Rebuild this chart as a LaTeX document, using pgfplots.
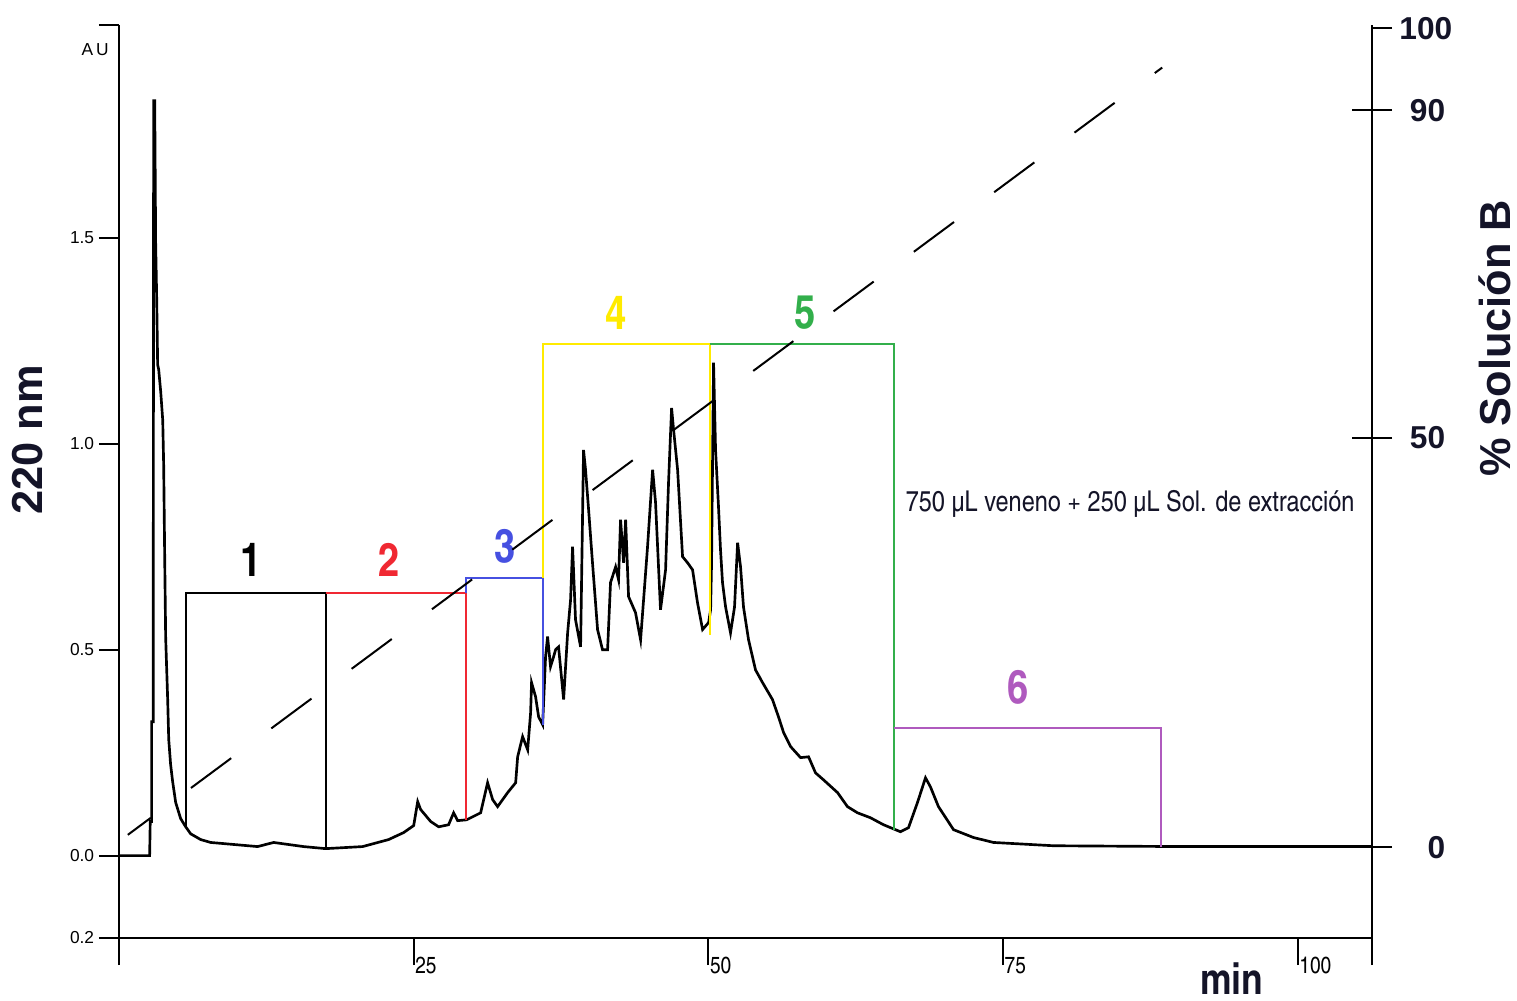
\documentclass[border=0pt]{standalone}
\usepackage{fontspec}
\setmainfont{Liberation Sans}
\newfontfamily\cond[BoldFont=texgyreheroscn-bold.otf]{texgyreheroscn-regular.otf}
\usepackage{pgfplots}
\pgfplotsset{compat=1.18}
\definecolor{fred}{RGB}{240,40,50}
\definecolor{fblue}{RGB}{70,80,225}
\definecolor{fyellow}{RGB}{255,235,0}
\definecolor{fgreen}{RGB}{50,175,75}
\definecolor{fpurple}{RGB}{175,90,190}
\definecolor{ink}{RGB}{20,20,40}
\begin{document}
\begin{tikzpicture}
\useasboundingbox (-35.7pt,-18.6pt) rectangle (419.4pt,281.4pt);
\begin{axis}[
  at={(0,0)}, anchor=south west,
  scale only axis, width=375.9pt, height=273.9pt,
  xmin=0, xmax=106.3, ymin=-0.2, ymax=2.017,
  clip=false,
  axis x line*=bottom, axis y line*=left,
  axis line style={-, line width=0.6pt},
  tick align=outside,
  xtick={0,25,50,75,100,106.3},
  xticklabels={,25,50,75,100,},
  ytick={-0.2,0,0.5,1,1.5,2.017},
  yticklabels={0.2,0.0,0.5,1.0,1.5,},
  xtick style={line width=0.6pt, black, /pgfplots/major tick length=8.1pt},
  ytick style={line width=0.6pt, black, /pgfplots/major tick length=6pt},
  xticklabel style={font=\cond\fontsize{7}{8}\selectfont, anchor=west, inner sep=0.8pt, yshift=-4pt, xshift=-0.5pt},
  yticklabel style={font=\fontsize{5.2}{6}\selectfont, anchor=east, inner sep=0pt, xshift=-3pt},
]
\addplot[black, line width=0.8pt] coordinates {
(0,0) (2.60,0) (2.65,0.083) (2.77,0.083) (2.77,0.325) (2.90,0.325) (2.94,1.833) (3.03,1.833)
(3.11,1.488) (3.20,1.350) (3.28,1.192) (3.37,1.180) (3.54,1.126) (3.71,1.058) (3.79,0.949)
(3.88,0.718) (3.96,0.529) (4.13,0.379) (4.22,0.282) (4.38,0.221) (4.55,0.180) (4.81,0.129)
(5.23,0.090) (5.66,0.070) (6.08,0.053) (6.93,0.039) (7.78,0.032) (11.76,0.022) (13.12,0.032)
(15.66,0.022) (17.53,0.017) (20.67,0.022) (22.87,0.039) (24.15,0.056) (25.00,0.073)
(25.34,0.131) (25.59,0.112) (26.44,0.083) (27.12,0.070) (27.96,0.075) (28.39,0.104)
(28.73,0.085) (29.49,0.087) (30.68,0.104) (31.27,0.177) (31.70,0.136) (32.12,0.119)
(32.97,0.153) (33.65,0.177) (33.82,0.240) (34.24,0.289) (34.67,0.257) (34.92,0.347)
(35.00,0.420) (35.34,0.386) (35.60,0.337) (35.94,0.318) (36.19,0.483) (36.36,0.532)
(36.61,0.459) (36.87,0.483) (37.04,0.500) (37.29,0.507) (37.72,0.379) (38.06,0.541)
(38.31,0.621) (38.48,0.750) (38.73,0.573) (39.16,0.507) (39.41,0.985) (39.58,0.937)
(39.84,0.840) (40.17,0.711) (40.60,0.549) (41.02,0.500) (41.45,0.500) (41.70,0.663)
(42.13,0.701) (42.38,0.670) (42.55,0.816) (42.81,0.711) (42.98,0.816) (43.23,0.629)
(43.82,0.590) (44.25,0.524) (44.84,0.750) (45.27,0.937) (45.52,0.857) (45.94,0.597)
(46.37,0.694) (46.62,0.905) (46.88,1.087) (47.05,1.034) (47.39,0.937) (47.81,0.726)
(48.24,0.711) (48.66,0.694) (49.08,0.614) (49.51,0.549) (50.02,0.566) (50.19,0.597)
(50.27,0.711) (50.44,1.197) (50.61,0.985) (50.86,0.847) (51.03,0.743) (51.20,0.663)
(51.46,0.604) (51.88,0.541) (52.22,0.604) (52.48,0.760) (52.73,0.701) (52.98,0.604)
(53.41,0.524) (54.00,0.451) (54.60,0.420) (55.44,0.379) (55.95,0.337) (56.38,0.299)
(56.97,0.265) (57.82,0.238) (58.50,0.240) (59.09,0.201) (59.77,0.184) (60.96,0.153)
(61.80,0.119) (62.65,0.104) (63.75,0.092) (64.86,0.075) (65.62,0.066) (66.30,0.058)
(66.98,0.068) (67.74,0.129) (68.42,0.189) (68.84,0.167) (69.52,0.119) (70.80,0.063)
(72.49,0.044) (74.19,0.032) (79.28,0.024) (90.05,0.022) (106.3,0.022)
};
% fraction boxes
\addplot[black, line width=0.6pt] coordinates {(5.66,0.070) (5.66,0.638) (17.53,0.638) (17.53,0.017)};
\addplot[fred, line width=0.6pt] coordinates {(17.53,0.638) (29.41,0.638) (29.41,0.087)};
\addplot[fblue, line width=0.6pt] coordinates {(29.41,0.638) (29.41,0.675) (35.94,0.675) (35.94,0.318)};
\addplot[fyellow, line width=0.6pt] coordinates {(35.94,0.675) (35.94,1.243) (50.10,1.243) (50.10,0.536)};
\addplot[fgreen, line width=0.6pt] coordinates {(50.10,1.243) (65.71,1.243) (65.71,0.062)};
\addplot[fpurple, line width=0.6pt] coordinates {(65.71,0.311) (88.36,0.311) (88.36,0.022)};
\begin{scope}[font=\cond\bfseries\fontsize{14}{16}\selectfont]
\node[black] at (axis cs:11.19,0.718) {1};
\node[fred] at (axis cs:22.9,0.718) {2};
\node[fblue] at (axis cs:32.8,0.750) {3};
\node[fyellow] at (axis cs:42.2,1.318) {4};
\node[fgreen] at (axis cs:58.2,1.318) {5};
\node[fpurple] at (axis cs:76.3,0.408) {6};
\end{scope}
\node[font=\cond\fontsize{8.6}{10}\selectfont, ink] at (rel axis cs:0.807,0.475) {750 µL veneno + 250 µL Sol. de extracción};
\node[font=\fontsize{5.2}{6}\selectfont] at (rel axis cs:-0.019,0.9726) {A\,U};
\node[font=\bfseries\fontsize{13}{15}\selectfont, ink, rotate=90] at (rel axis cs:-0.0726,0.5455) {220 nm};
\node[font=\bfseries\fontsize{13}{15}\selectfont, ink, rotate=90] at (rel axis cs:1.098,0.657) {\% Solución B};
\node[font=\cond\bfseries\fontsize{13}{15}\selectfont, ink, inner sep=0pt] at (rel axis cs:0.888,-0.045) {min};
\end{axis}
\begin{axis}[
  at={(0,0)}, anchor=south west,
  scale only axis, width=375.9pt, height=273.9pt,
  xmin=0, xmax=106.3, ymin=-11.1, ymax=100.4,
  clip=false,
  axis x line=none, axis y line*=right,
  axis line style={-, line width=0.6pt},
  ytick={0,50,90},
  yticklabels={0,50,90},
  tick align=center,
  ytick style={line width=0.6pt, black, /pgfplots/major tick length=12pt},
  extra y ticks={100},
  extra y tick labels={100},
  extra y tick style={tick align=outside, ytick style={/pgfplots/major tick length=6pt}},
  yticklabel style={font=\bfseries\fontsize{9.5}{11}\selectfont, text=ink, anchor=east, inner sep=0pt, xshift=20pt},
]
\addplot[black, line width=0.6pt, dash pattern=on 15pt off 15pt, dash phase=6.4pt] coordinates {(0.75,1.5) (88.5,95.2)};
\end{axis}
\end{tikzpicture}
\end{document}
